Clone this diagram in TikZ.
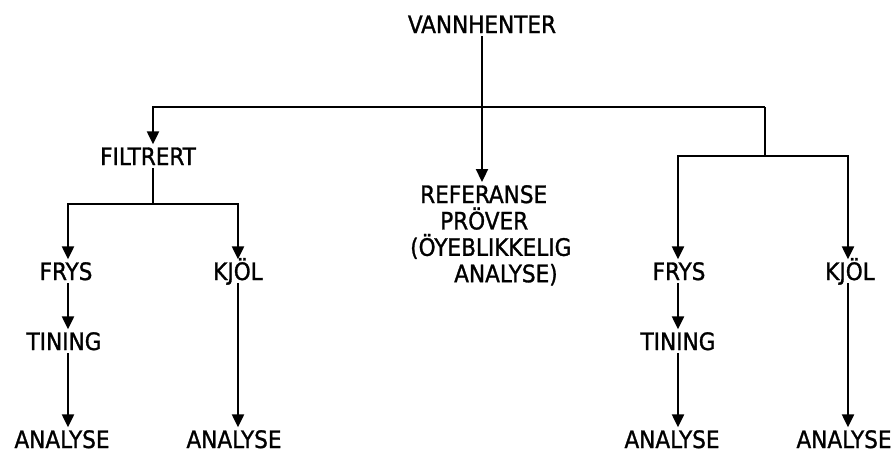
\documentclass[tikz,border=0pt]{standalone}
\usepackage{fontspec}
\setmainfont{DejaVu Sans Condensed}[FakeBold=1.2]
\usetikzlibrary{arrows.meta}
\begin{document}
\begin{tikzpicture}[x=1pt,y=-1pt,
  txt/.style={font=\fontsize{24}{26.4}\selectfont},
  lbl/.style={txt, text height=17.5pt, text depth=0pt, inner sep=3pt, anchor=base},
  ln/.style={line width=2.3pt},
  arr/.style={line width=2.3pt,-{Triangle[length=13pt,width=12pt]}},
]
\useasboundingbox (0,0) rectangle (895,453);
% nodes
\node[lbl] (vann) at (482,33) {VANNHENTER};
\node[lbl] (filt) at (148,165) {FILTRERT};
\node[lbl] (frysL) at (66,280) {FRYS};
\node[lbl] (tinL) at (64,350) {TINING};
\node[lbl] (anaL1) at (62,448) {ANALYSE};
\node[lbl] (kjolL) at (238,280) {KJÖL};
\node[lbl] (anaL2) at (234,448) {ANALYSE};
\node[txt, align=left, inner sep=3pt, anchor=north west] (ref) at (407,182)
  {\hspace*{10pt}REFERANSE\\ \hspace*{30pt}PRÖVER\\ (ÖYEBLIKKELIG\\ \hspace*{44pt}ANALYSE)};
\node[lbl] (frysR) at (679,280) {FRYS};
\node[lbl] (tinR) at (678,350) {TINING};
\node[lbl] (anaR1) at (672,448) {ANALYSE};
\node[lbl] (kjolR) at (850,280) {KJÖL};
\node[lbl] (anaR2) at (844,448) {ANALYSE};
% junctions
\coordinate (busL) at (153,107);
\coordinate (busR) at (765,107);
\coordinate (r2) at (765,156);
\coordinate (r2L) at (678,156);
\coordinate (r2R) at (848,156);
\coordinate (fL) at (153,204);
\coordinate (fa) at (68,204);
\coordinate (fb) at (238,204);
% connectors
\draw[arr] (vann.south) -- (vann.south |- ref.north);
\draw[arr] (busR) -- (busL) -- (busL |- filt.north);
\draw[ln] (busR) -- (r2);
\draw[arr] (r2) -- (r2L) -- (r2L |- frysR.north);
\draw[arr] (r2) -- (r2R) -- (r2R |- kjolR.north);
\draw[ln] (fL |- filt.south) -- (fL);
\draw[arr] (fL) -- (fa) -- (fa |- frysL.north);
\draw[arr] (fL) -- (fb) -- (fb |- kjolL.north);
\draw[arr] (fa |- frysL.south) -- (fa |- tinL.north);
\draw[arr] (fa |- tinL.south) -- (fa |- anaL1.north);
\draw[arr] (fb |- kjolL.south) -- (fb |- anaL2.north);
\draw[arr] (r2L |- frysR.south) -- (r2L |- tinR.north);
\draw[arr] (r2L |- tinR.south) -- (r2L |- anaR1.north);
\draw[arr] (r2R |- kjolR.south) -- (r2R |- anaR2.north);
\end{tikzpicture}
\end{document}
